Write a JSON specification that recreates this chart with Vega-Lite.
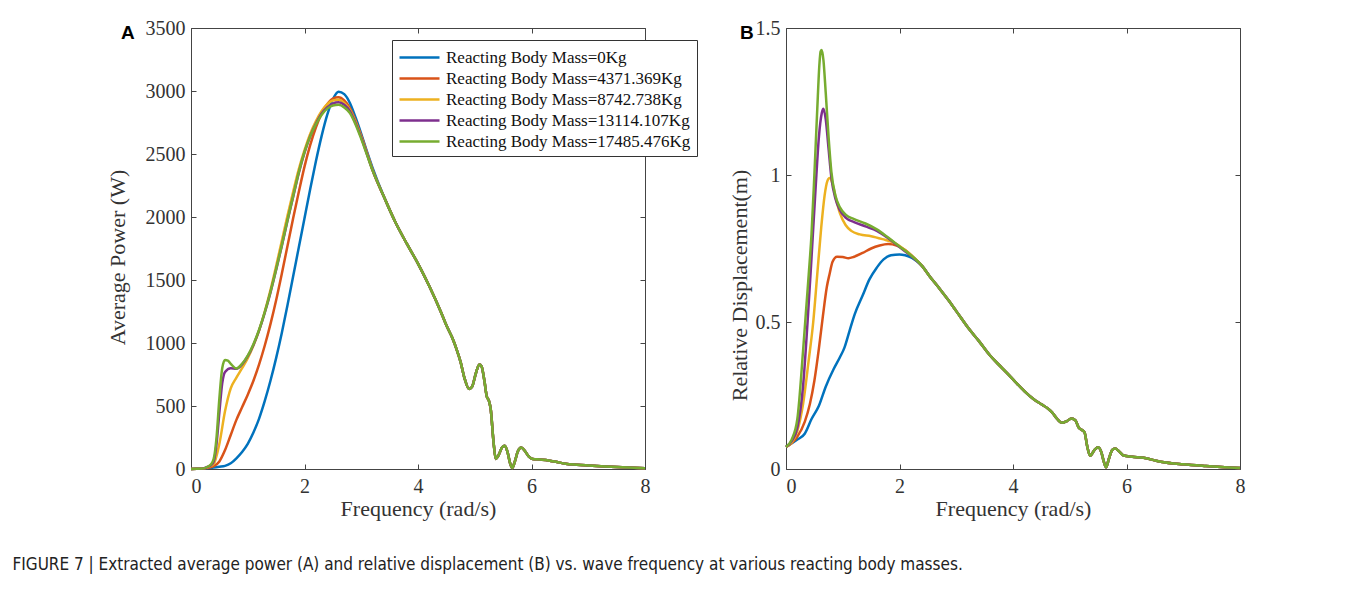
{
  "$schema": "https://vega.github.io/schema/vega-lite/v6.json",
  "background": "white",
  "padding": {"left": 12, "top": 17, "right": 5, "bottom": 5},
  "config": {
    "view": {"stroke": "#444", "strokeWidth": 1},
    "axis": {"grid": false, "domain": false, "ticks": true, "tickColor": "#444", "tickSize": -5, "labelFont": "Liberation Serif", "labelFontSize": 20, "labelColor": "#333", "titleFont": "Liberation Serif", "titleFontSize": 22, "titleFontWeight": "normal", "titleColor": "#333"},
    "axisX": {"labelPadding": 12},
    "axisY": {"labelPadding": 11},
    "line": {"strokeWidth": 2.5, "interpolate": "monotone"}
  },
  "title": {"text": "FIGURE 7 | Extracted average power (A) and relative displacement (B) vs. wave frequency at various reacting body masses.", "orient": "bottom", "anchor": "start", "frame": "bounds", "font": "Liberation Sans Narrow, DejaVu Sans Condensed, Liberation Sans", "fontSize": 17, "fontWeight": "normal", "color": "#222", "offset": 37, "dx": -93},
  "resolve": {"scale": {"color": "independent"}, "legend": {"color": "independent"}},
  "spacing": 29,
  "datasets": {
    "power": [
      {"m":"0","f":0,"v":0},{"m":"0","f":0.1,"v":1},{"m":"0","f":0.2,"v":3},{"m":"0","f":0.3,"v":8},{"m":"0","f":0.4,"v":12},{"m":"0","f":0.5,"v":18},{"m":"0","f":0.6,"v":25},{"m":"0","f":0.7,"v":45},{"m":"0","f":0.8,"v":85},{"m":"0","f":0.9,"v":135},{"m":"0","f":1.0,"v":200},{"m":"0","f":1.1,"v":290},{"m":"0","f":1.2,"v":400},{"m":"0","f":1.3,"v":540},{"m":"0","f":1.4,"v":700},{"m":"0","f":1.5,"v":880},{"m":"0","f":1.6,"v":1080},{"m":"0","f":1.7,"v":1300},{"m":"0","f":1.8,"v":1530},{"m":"0","f":1.9,"v":1760},{"m":"0","f":2.0,"v":1990},{"m":"0","f":2.1,"v":2220},{"m":"0","f":2.2,"v":2440},{"m":"0","f":2.3,"v":2640},{"m":"0","f":2.4,"v":2810},{"m":"0","f":2.5,"v":2935},{"m":"0","f":2.6,"v":2995},{"m":"0","f":2.7,"v":2975},{"m":"0","f":2.8,"v":2905},{"m":"0","f":2.9,"v":2790},{"m":"0","f":3.0,"v":2660},{"m":"0","f":3.1,"v":2520},{"m":"0","f":3.2,"v":2390},
      {"m":"0","f":3.4,"v":2160},{"m":"0","f":3.6,"v":1960},{"m":"0","f":3.8,"v":1790},{"m":"0","f":4.0,"v":1630},{"m":"0","f":4.2,"v":1450},{"m":"0","f":4.4,"v":1250},{"m":"0","f":4.5,"v":1140},{"m":"0","f":4.6,"v":1045},{"m":"0","f":4.68,"v":950},{"m":"0","f":4.75,"v":850},{"m":"0","f":4.82,"v":720},{"m":"0","f":4.9,"v":635},{"m":"0","f":4.95,"v":650},{"m":"0","f":5.02,"v":760},{"m":"0","f":5.08,"v":830},{"m":"0","f":5.12,"v":815},{"m":"0","f":5.17,"v":700},{"m":"0","f":5.21,"v":580},{"m":"0","f":5.25,"v":540},{"m":"0","f":5.28,"v":480},{"m":"0","f":5.33,"v":220},{"m":"0","f":5.37,"v":80},{"m":"0","f":5.42,"v":110},{"m":"0","f":5.48,"v":170},{"m":"0","f":5.53,"v":185},{"m":"0","f":5.58,"v":130},{"m":"0","f":5.62,"v":50},{"m":"0","f":5.66,"v":8},{"m":"0","f":5.7,"v":50},{"m":"0","f":5.76,"v":140},{"m":"0","f":5.82,"v":170},{"m":"0","f":5.88,"v":145},{"m":"0","f":5.95,"v":100},{"m":"0","f":6.02,"v":80},{"m":"0","f":6.15,"v":75},{"m":"0","f":6.3,"v":68},{"m":"0","f":6.45,"v":55},{"m":"0","f":6.6,"v":42},{"m":"0","f":6.8,"v":34},{"m":"0","f":7.0,"v":28},{"m":"0","f":7.3,"v":20},{"m":"0","f":7.6,"v":14},{"m":"0","f":8.0,"v":6},

      {"m":"4371.369","f":0,"v":0},{"m":"4371.369","f":0.1,"v":1},{"m":"4371.369","f":0.2,"v":3},{"m":"4371.369","f":0.3,"v":10},{"m":"4371.369","f":0.4,"v":22},{"m":"4371.369","f":0.5,"v":60},{"m":"4371.369","f":0.6,"v":150},{"m":"4371.369","f":0.7,"v":270},{"m":"4371.369","f":0.8,"v":390},{"m":"4371.369","f":0.9,"v":490},{"m":"4371.369","f":1.0,"v":590},{"m":"4371.369","f":1.1,"v":700},{"m":"4371.369","f":1.2,"v":830},{"m":"4371.369","f":1.3,"v":980},{"m":"4371.369","f":1.4,"v":1150},{"m":"4371.369","f":1.5,"v":1340},{"m":"4371.369","f":1.6,"v":1550},{"m":"4371.369","f":1.7,"v":1770},{"m":"4371.369","f":1.8,"v":1990},{"m":"4371.369","f":1.9,"v":2200},{"m":"4371.369","f":2.0,"v":2400},{"m":"4371.369","f":2.1,"v":2570},{"m":"4371.369","f":2.2,"v":2710},{"m":"4371.369","f":2.3,"v":2820},{"m":"4371.369","f":2.4,"v":2895},{"m":"4371.369","f":2.5,"v":2940},{"m":"4371.369","f":2.6,"v":2950},{"m":"4371.369","f":2.7,"v":2925},{"m":"4371.369","f":2.8,"v":2865},{"m":"4371.369","f":2.9,"v":2765},{"m":"4371.369","f":3.0,"v":2645},{"m":"4371.369","f":3.1,"v":2510},{"m":"4371.369","f":3.2,"v":2375},
      {"m":"4371.369","f":3.4,"v":2160},{"m":"4371.369","f":3.6,"v":1960},{"m":"4371.369","f":3.8,"v":1790},{"m":"4371.369","f":4.0,"v":1630},{"m":"4371.369","f":4.2,"v":1450},{"m":"4371.369","f":4.4,"v":1250},{"m":"4371.369","f":4.5,"v":1140},{"m":"4371.369","f":4.6,"v":1045},{"m":"4371.369","f":4.68,"v":950},{"m":"4371.369","f":4.75,"v":850},{"m":"4371.369","f":4.82,"v":720},{"m":"4371.369","f":4.9,"v":635},{"m":"4371.369","f":4.95,"v":650},{"m":"4371.369","f":5.02,"v":760},{"m":"4371.369","f":5.08,"v":830},{"m":"4371.369","f":5.12,"v":815},{"m":"4371.369","f":5.17,"v":700},{"m":"4371.369","f":5.21,"v":580},{"m":"4371.369","f":5.25,"v":540},{"m":"4371.369","f":5.28,"v":480},{"m":"4371.369","f":5.33,"v":220},{"m":"4371.369","f":5.37,"v":80},{"m":"4371.369","f":5.42,"v":110},{"m":"4371.369","f":5.48,"v":170},{"m":"4371.369","f":5.53,"v":185},{"m":"4371.369","f":5.58,"v":130},{"m":"4371.369","f":5.62,"v":50},{"m":"4371.369","f":5.66,"v":8},{"m":"4371.369","f":5.7,"v":50},{"m":"4371.369","f":5.76,"v":140},{"m":"4371.369","f":5.82,"v":170},{"m":"4371.369","f":5.88,"v":145},{"m":"4371.369","f":5.95,"v":100},{"m":"4371.369","f":6.02,"v":80},{"m":"4371.369","f":6.15,"v":75},{"m":"4371.369","f":6.3,"v":68},{"m":"4371.369","f":6.45,"v":55},{"m":"4371.369","f":6.6,"v":42},{"m":"4371.369","f":6.8,"v":34},{"m":"4371.369","f":7.0,"v":28},{"m":"4371.369","f":7.3,"v":20},{"m":"4371.369","f":7.6,"v":14},{"m":"4371.369","f":8.0,"v":6},

      {"m":"8742.738","f":0,"v":0},{"m":"8742.738","f":0.1,"v":1},{"m":"8742.738","f":0.2,"v":3},{"m":"8742.738","f":0.3,"v":15},{"m":"8742.738","f":0.4,"v":40},{"m":"8742.738","f":0.5,"v":200},{"m":"8742.738","f":0.6,"v":460},{"m":"8742.738","f":0.7,"v":640},{"m":"8742.738","f":0.8,"v":725},{"m":"8742.738","f":0.9,"v":800},{"m":"8742.738","f":1.0,"v":880},{"m":"8742.738","f":1.1,"v":980},{"m":"8742.738","f":1.2,"v":1100},{"m":"8742.738","f":1.3,"v":1250},{"m":"8742.738","f":1.4,"v":1420},{"m":"8742.738","f":1.5,"v":1610},{"m":"8742.738","f":1.6,"v":1810},{"m":"8742.738","f":1.7,"v":2010},{"m":"8742.738","f":1.8,"v":2200},{"m":"8742.738","f":1.9,"v":2380},{"m":"8742.738","f":2.0,"v":2530},{"m":"8742.738","f":2.1,"v":2660},{"m":"8742.738","f":2.2,"v":2760},{"m":"8742.738","f":2.3,"v":2840},{"m":"8742.738","f":2.4,"v":2895},{"m":"8742.738","f":2.5,"v":2925},{"m":"8742.738","f":2.6,"v":2930},{"m":"8742.738","f":2.7,"v":2905},{"m":"8742.738","f":2.8,"v":2850},{"m":"8742.738","f":2.9,"v":2755},{"m":"8742.738","f":3.0,"v":2635},{"m":"8742.738","f":3.1,"v":2505},{"m":"8742.738","f":3.2,"v":2370},
      {"m":"8742.738","f":3.4,"v":2160},{"m":"8742.738","f":3.6,"v":1960},{"m":"8742.738","f":3.8,"v":1790},{"m":"8742.738","f":4.0,"v":1630},{"m":"8742.738","f":4.2,"v":1450},{"m":"8742.738","f":4.4,"v":1250},{"m":"8742.738","f":4.5,"v":1140},{"m":"8742.738","f":4.6,"v":1045},{"m":"8742.738","f":4.68,"v":950},{"m":"8742.738","f":4.75,"v":850},{"m":"8742.738","f":4.82,"v":720},{"m":"8742.738","f":4.9,"v":635},{"m":"8742.738","f":4.95,"v":650},{"m":"8742.738","f":5.02,"v":760},{"m":"8742.738","f":5.08,"v":830},{"m":"8742.738","f":5.12,"v":815},{"m":"8742.738","f":5.17,"v":700},{"m":"8742.738","f":5.21,"v":580},{"m":"8742.738","f":5.25,"v":540},{"m":"8742.738","f":5.28,"v":480},{"m":"8742.738","f":5.33,"v":220},{"m":"8742.738","f":5.37,"v":80},{"m":"8742.738","f":5.42,"v":110},{"m":"8742.738","f":5.48,"v":170},{"m":"8742.738","f":5.53,"v":185},{"m":"8742.738","f":5.58,"v":130},{"m":"8742.738","f":5.62,"v":50},{"m":"8742.738","f":5.66,"v":8},{"m":"8742.738","f":5.7,"v":50},{"m":"8742.738","f":5.76,"v":140},{"m":"8742.738","f":5.82,"v":170},{"m":"8742.738","f":5.88,"v":145},{"m":"8742.738","f":5.95,"v":100},{"m":"8742.738","f":6.02,"v":80},{"m":"8742.738","f":6.15,"v":75},{"m":"8742.738","f":6.3,"v":68},{"m":"8742.738","f":6.45,"v":55},{"m":"8742.738","f":6.6,"v":42},{"m":"8742.738","f":6.8,"v":34},{"m":"8742.738","f":7.0,"v":28},{"m":"8742.738","f":7.3,"v":20},{"m":"8742.738","f":7.6,"v":14},{"m":"8742.738","f":8.0,"v":6},

      {"m":"13114.107","f":0,"v":0},{"m":"13114.107","f":0.1,"v":1},{"m":"13114.107","f":0.2,"v":3},{"m":"13114.107","f":0.3,"v":18},{"m":"13114.107","f":0.35,"v":30},{"m":"13114.107","f":0.4,"v":60},{"m":"13114.107","f":0.45,"v":200},{"m":"13114.107","f":0.5,"v":450},{"m":"13114.107","f":0.55,"v":680},{"m":"13114.107","f":0.6,"v":770},{"m":"13114.107","f":0.7,"v":800},{"m":"13114.107","f":0.8,"v":795},{"m":"13114.107","f":0.9,"v":830},{"m":"13114.107","f":1.0,"v":895},{"m":"13114.107","f":1.1,"v":985},{"m":"13114.107","f":1.2,"v":1100},{"m":"13114.107","f":1.3,"v":1240},{"m":"13114.107","f":1.4,"v":1400},{"m":"13114.107","f":1.5,"v":1580},{"m":"13114.107","f":1.6,"v":1770},{"m":"13114.107","f":1.7,"v":1970},{"m":"13114.107","f":1.8,"v":2160},{"m":"13114.107","f":1.9,"v":2350},{"m":"13114.107","f":2.0,"v":2510},{"m":"13114.107","f":2.1,"v":2640},{"m":"13114.107","f":2.2,"v":2740},{"m":"13114.107","f":2.3,"v":2820},{"m":"13114.107","f":2.4,"v":2870},{"m":"13114.107","f":2.5,"v":2900},{"m":"13114.107","f":2.6,"v":2910},{"m":"13114.107","f":2.7,"v":2890},{"m":"13114.107","f":2.8,"v":2840},{"m":"13114.107","f":2.9,"v":2745},{"m":"13114.107","f":3.0,"v":2630},{"m":"13114.107","f":3.1,"v":2500},{"m":"13114.107","f":3.2,"v":2370},
      {"m":"13114.107","f":3.4,"v":2160},{"m":"13114.107","f":3.6,"v":1960},{"m":"13114.107","f":3.8,"v":1790},{"m":"13114.107","f":4.0,"v":1630},{"m":"13114.107","f":4.2,"v":1450},{"m":"13114.107","f":4.4,"v":1250},{"m":"13114.107","f":4.5,"v":1140},{"m":"13114.107","f":4.6,"v":1045},{"m":"13114.107","f":4.68,"v":950},{"m":"13114.107","f":4.75,"v":850},{"m":"13114.107","f":4.82,"v":720},{"m":"13114.107","f":4.9,"v":635},{"m":"13114.107","f":4.95,"v":650},{"m":"13114.107","f":5.02,"v":760},{"m":"13114.107","f":5.08,"v":830},{"m":"13114.107","f":5.12,"v":815},{"m":"13114.107","f":5.17,"v":700},{"m":"13114.107","f":5.21,"v":580},{"m":"13114.107","f":5.25,"v":540},{"m":"13114.107","f":5.28,"v":480},{"m":"13114.107","f":5.33,"v":220},{"m":"13114.107","f":5.37,"v":80},{"m":"13114.107","f":5.42,"v":110},{"m":"13114.107","f":5.48,"v":170},{"m":"13114.107","f":5.53,"v":185},{"m":"13114.107","f":5.58,"v":130},{"m":"13114.107","f":5.62,"v":50},{"m":"13114.107","f":5.66,"v":8},{"m":"13114.107","f":5.7,"v":50},{"m":"13114.107","f":5.76,"v":140},{"m":"13114.107","f":5.82,"v":170},{"m":"13114.107","f":5.88,"v":145},{"m":"13114.107","f":5.95,"v":100},{"m":"13114.107","f":6.02,"v":80},{"m":"13114.107","f":6.15,"v":75},{"m":"13114.107","f":6.3,"v":68},{"m":"13114.107","f":6.45,"v":55},{"m":"13114.107","f":6.6,"v":42},{"m":"13114.107","f":6.8,"v":34},{"m":"13114.107","f":7.0,"v":28},{"m":"13114.107","f":7.3,"v":20},{"m":"13114.107","f":7.6,"v":14},{"m":"13114.107","f":8.0,"v":6},

      {"m":"17485.476","f":0,"v":0},{"m":"17485.476","f":0.1,"v":1},{"m":"17485.476","f":0.2,"v":3},{"m":"17485.476","f":0.3,"v":20},{"m":"17485.476","f":0.35,"v":35},{"m":"17485.476","f":0.4,"v":80},{"m":"17485.476","f":0.45,"v":250},{"m":"17485.476","f":0.5,"v":560},{"m":"17485.476","f":0.55,"v":800},{"m":"17485.476","f":0.6,"v":865},{"m":"17485.476","f":0.65,"v":860},{"m":"17485.476","f":0.7,"v":835},{"m":"17485.476","f":0.8,"v":798},{"m":"17485.476","f":0.9,"v":835},{"m":"17485.476","f":1.0,"v":900},{"m":"17485.476","f":1.1,"v":990},{"m":"17485.476","f":1.2,"v":1105},{"m":"17485.476","f":1.3,"v":1245},{"m":"17485.476","f":1.4,"v":1405},{"m":"17485.476","f":1.5,"v":1585},{"m":"17485.476","f":1.6,"v":1775},{"m":"17485.476","f":1.7,"v":1975},{"m":"17485.476","f":1.8,"v":2165},{"m":"17485.476","f":1.9,"v":2355},{"m":"17485.476","f":2.0,"v":2515},{"m":"17485.476","f":2.1,"v":2640},{"m":"17485.476","f":2.2,"v":2735},{"m":"17485.476","f":2.3,"v":2810},{"m":"17485.476","f":2.4,"v":2860},{"m":"17485.476","f":2.5,"v":2885},{"m":"17485.476","f":2.6,"v":2890},{"m":"17485.476","f":2.7,"v":2870},{"m":"17485.476","f":2.8,"v":2825},{"m":"17485.476","f":2.9,"v":2735},{"m":"17485.476","f":3.0,"v":2620},{"m":"17485.476","f":3.1,"v":2495},{"m":"17485.476","f":3.2,"v":2370},
      {"m":"17485.476","f":3.4,"v":2160},{"m":"17485.476","f":3.6,"v":1960},{"m":"17485.476","f":3.8,"v":1790},{"m":"17485.476","f":4.0,"v":1630},{"m":"17485.476","f":4.2,"v":1450},{"m":"17485.476","f":4.4,"v":1250},{"m":"17485.476","f":4.5,"v":1140},{"m":"17485.476","f":4.6,"v":1045},{"m":"17485.476","f":4.68,"v":950},{"m":"17485.476","f":4.75,"v":850},{"m":"17485.476","f":4.82,"v":720},{"m":"17485.476","f":4.9,"v":635},{"m":"17485.476","f":4.95,"v":650},{"m":"17485.476","f":5.02,"v":760},{"m":"17485.476","f":5.08,"v":830},{"m":"17485.476","f":5.12,"v":815},{"m":"17485.476","f":5.17,"v":700},{"m":"17485.476","f":5.21,"v":580},{"m":"17485.476","f":5.25,"v":540},{"m":"17485.476","f":5.28,"v":480},{"m":"17485.476","f":5.33,"v":220},{"m":"17485.476","f":5.37,"v":80},{"m":"17485.476","f":5.42,"v":110},{"m":"17485.476","f":5.48,"v":170},{"m":"17485.476","f":5.53,"v":185},{"m":"17485.476","f":5.58,"v":130},{"m":"17485.476","f":5.62,"v":50},{"m":"17485.476","f":5.66,"v":8},{"m":"17485.476","f":5.7,"v":50},{"m":"17485.476","f":5.76,"v":140},{"m":"17485.476","f":5.82,"v":170},{"m":"17485.476","f":5.88,"v":145},{"m":"17485.476","f":5.95,"v":100},{"m":"17485.476","f":6.02,"v":80},{"m":"17485.476","f":6.15,"v":75},{"m":"17485.476","f":6.3,"v":68},{"m":"17485.476","f":6.45,"v":55},{"m":"17485.476","f":6.6,"v":42},{"m":"17485.476","f":6.8,"v":34},{"m":"17485.476","f":7.0,"v":28},{"m":"17485.476","f":7.3,"v":20},{"m":"17485.476","f":7.6,"v":14},{"m":"17485.476","f":8.0,"v":6}
    ],
    "disp": [
      {"m":"0","f":0,"v":0.075},{"m":"0","f":0.2,"v":0.1},{"m":"0","f":0.33,"v":0.12},{"m":"0","f":0.45,"v":0.17},{"m":"0","f":0.58,"v":0.215},{"m":"0","f":0.7,"v":0.28},{"m":"0","f":0.84,"v":0.34},{"m":"0","f":0.95,"v":0.38},{"m":"0","f":1.03,"v":0.413},{"m":"0","f":1.12,"v":0.47},{"m":"0","f":1.21,"v":0.526},{"m":"0","f":1.35,"v":0.59},{"m":"0","f":1.47,"v":0.645},{"m":"0","f":1.6,"v":0.685},{"m":"0","f":1.72,"v":0.713},{"m":"0","f":1.85,"v":0.727},{"m":"0","f":2.0,"v":0.73},{"m":"0","f":2.1,"v":0.727},{"m":"0","f":2.22,"v":0.718},{"m":"0","f":2.3,"v":0.707},
      {"m":"0","f":2.4,"v":0.69},{"m":"0","f":2.53,"v":0.656},{"m":"0","f":2.7,"v":0.615},{"m":"0","f":2.85,"v":0.577},{"m":"0","f":3.0,"v":0.537},{"m":"0","f":3.23,"v":0.475},{"m":"0","f":3.4,"v":0.435},{"m":"0","f":3.6,"v":0.385},{"m":"0","f":3.8,"v":0.345},{"m":"0","f":4.0,"v":0.305},{"m":"0","f":4.2,"v":0.265},{"m":"0","f":4.36,"v":0.238},{"m":"0","f":4.5,"v":0.22},{"m":"0","f":4.62,"v":0.205},{"m":"0","f":4.7,"v":0.19},{"m":"0","f":4.78,"v":0.17},{"m":"0","f":4.86,"v":0.157},{"m":"0","f":4.95,"v":0.163},{"m":"0","f":5.03,"v":0.172},{"m":"0","f":5.1,"v":0.165},{"m":"0","f":5.16,"v":0.14},{"m":"0","f":5.22,"v":0.132},{"m":"0","f":5.26,"v":0.125},{"m":"0","f":5.31,"v":0.075},{"m":"0","f":5.36,"v":0.045},{"m":"0","f":5.44,"v":0.066},{"m":"0","f":5.5,"v":0.074},{"m":"0","f":5.56,"v":0.055},{"m":"0","f":5.6,"v":0.025},{"m":"0","f":5.64,"v":0.006},{"m":"0","f":5.69,"v":0.035},{"m":"0","f":5.75,"v":0.065},{"m":"0","f":5.8,"v":0.07},{"m":"0","f":5.87,"v":0.06},{"m":"0","f":5.95,"v":0.046},{"m":"0","f":6.1,"v":0.042},{"m":"0","f":6.3,"v":0.038},{"m":"0","f":6.6,"v":0.025},{"m":"0","f":7.0,"v":0.016},{"m":"0","f":7.4,"v":0.01},{"m":"0","f":7.8,"v":0.005},{"m":"0","f":8.0,"v":0.003},

      {"m":"4371.369","f":0,"v":0.075},{"m":"4371.369","f":0.1,"v":0.088},{"m":"4371.369","f":0.2,"v":0.11},{"m":"4371.369","f":0.33,"v":0.16},{"m":"4371.369","f":0.42,"v":0.22},{"m":"4371.369","f":0.5,"v":0.3},{"m":"4371.369","f":0.58,"v":0.41},{"m":"4371.369","f":0.65,"v":0.52},{"m":"4371.369","f":0.72,"v":0.62},{"m":"4371.369","f":0.77,"v":0.665},{"m":"4371.369","f":0.82,"v":0.705},{"m":"4371.369","f":0.9,"v":0.722},{"m":"4371.369","f":1.0,"v":0.721},{"m":"4371.369","f":1.1,"v":0.717},{"m":"4371.369","f":1.2,"v":0.722},{"m":"4371.369","f":1.35,"v":0.735},{"m":"4371.369","f":1.5,"v":0.75},{"m":"4371.369","f":1.65,"v":0.76},{"m":"4371.369","f":1.8,"v":0.765},{"m":"4371.369","f":1.95,"v":0.76},{"m":"4371.369","f":2.1,"v":0.745},{"m":"4371.369","f":2.25,"v":0.72},
      {"m":"4371.369","f":2.4,"v":0.69},{"m":"4371.369","f":2.53,"v":0.656},{"m":"4371.369","f":2.7,"v":0.615},{"m":"4371.369","f":2.85,"v":0.577},{"m":"4371.369","f":3.0,"v":0.537},{"m":"4371.369","f":3.23,"v":0.475},{"m":"4371.369","f":3.4,"v":0.435},{"m":"4371.369","f":3.6,"v":0.385},{"m":"4371.369","f":3.8,"v":0.345},{"m":"4371.369","f":4.0,"v":0.305},{"m":"4371.369","f":4.2,"v":0.265},{"m":"4371.369","f":4.36,"v":0.238},{"m":"4371.369","f":4.5,"v":0.22},{"m":"4371.369","f":4.62,"v":0.205},{"m":"4371.369","f":4.7,"v":0.19},{"m":"4371.369","f":4.78,"v":0.17},{"m":"4371.369","f":4.86,"v":0.157},{"m":"4371.369","f":4.95,"v":0.163},{"m":"4371.369","f":5.03,"v":0.172},{"m":"4371.369","f":5.1,"v":0.165},{"m":"4371.369","f":5.16,"v":0.14},{"m":"4371.369","f":5.22,"v":0.132},{"m":"4371.369","f":5.26,"v":0.125},{"m":"4371.369","f":5.31,"v":0.075},{"m":"4371.369","f":5.36,"v":0.045},{"m":"4371.369","f":5.44,"v":0.066},{"m":"4371.369","f":5.5,"v":0.074},{"m":"4371.369","f":5.56,"v":0.055},{"m":"4371.369","f":5.6,"v":0.025},{"m":"4371.369","f":5.64,"v":0.006},{"m":"4371.369","f":5.69,"v":0.035},{"m":"4371.369","f":5.75,"v":0.065},{"m":"4371.369","f":5.8,"v":0.07},{"m":"4371.369","f":5.87,"v":0.06},{"m":"4371.369","f":5.95,"v":0.046},{"m":"4371.369","f":6.1,"v":0.042},{"m":"4371.369","f":6.3,"v":0.038},{"m":"4371.369","f":6.6,"v":0.025},{"m":"4371.369","f":7.0,"v":0.016},{"m":"4371.369","f":7.4,"v":0.01},{"m":"4371.369","f":7.8,"v":0.005},{"m":"4371.369","f":8.0,"v":0.003},

      {"m":"8742.738","f":0,"v":0.075},{"m":"8742.738","f":0.1,"v":0.09},{"m":"8742.738","f":0.2,"v":0.13},{"m":"8742.738","f":0.3,"v":0.22},{"m":"8742.738","f":0.4,"v":0.37},{"m":"8742.738","f":0.48,"v":0.5},{"m":"8742.738","f":0.55,"v":0.66},{"m":"8742.738","f":0.62,"v":0.82},{"m":"8742.738","f":0.68,"v":0.93},{"m":"8742.738","f":0.73,"v":0.98},{"m":"8742.738","f":0.77,"v":0.99},{"m":"8742.738","f":0.82,"v":0.97},{"m":"8742.738","f":0.88,"v":0.92},{"m":"8742.738","f":0.95,"v":0.87},{"m":"8742.738","f":1.05,"v":0.83},{"m":"8742.738","f":1.15,"v":0.81},{"m":"8742.738","f":1.3,"v":0.798},{"m":"8742.738","f":1.5,"v":0.792},{"m":"8742.738","f":1.7,"v":0.782},{"m":"8742.738","f":1.9,"v":0.77},{"m":"8742.738","f":2.05,"v":0.752},{"m":"8742.738","f":2.2,"v":0.728},
      {"m":"8742.738","f":2.4,"v":0.69},{"m":"8742.738","f":2.53,"v":0.656},{"m":"8742.738","f":2.7,"v":0.615},{"m":"8742.738","f":2.85,"v":0.577},{"m":"8742.738","f":3.0,"v":0.537},{"m":"8742.738","f":3.23,"v":0.475},{"m":"8742.738","f":3.4,"v":0.435},{"m":"8742.738","f":3.6,"v":0.385},{"m":"8742.738","f":3.8,"v":0.345},{"m":"8742.738","f":4.0,"v":0.305},{"m":"8742.738","f":4.2,"v":0.265},{"m":"8742.738","f":4.36,"v":0.238},{"m":"8742.738","f":4.5,"v":0.22},{"m":"8742.738","f":4.62,"v":0.205},{"m":"8742.738","f":4.7,"v":0.19},{"m":"8742.738","f":4.78,"v":0.17},{"m":"8742.738","f":4.86,"v":0.157},{"m":"8742.738","f":4.95,"v":0.163},{"m":"8742.738","f":5.03,"v":0.172},{"m":"8742.738","f":5.1,"v":0.165},{"m":"8742.738","f":5.16,"v":0.14},{"m":"8742.738","f":5.22,"v":0.132},{"m":"8742.738","f":5.26,"v":0.125},{"m":"8742.738","f":5.31,"v":0.075},{"m":"8742.738","f":5.36,"v":0.045},{"m":"8742.738","f":5.44,"v":0.066},{"m":"8742.738","f":5.5,"v":0.074},{"m":"8742.738","f":5.56,"v":0.055},{"m":"8742.738","f":5.6,"v":0.025},{"m":"8742.738","f":5.64,"v":0.006},{"m":"8742.738","f":5.69,"v":0.035},{"m":"8742.738","f":5.75,"v":0.065},{"m":"8742.738","f":5.8,"v":0.07},{"m":"8742.738","f":5.87,"v":0.06},{"m":"8742.738","f":5.95,"v":0.046},{"m":"8742.738","f":6.1,"v":0.042},{"m":"8742.738","f":6.3,"v":0.038},{"m":"8742.738","f":6.6,"v":0.025},{"m":"8742.738","f":7.0,"v":0.016},{"m":"8742.738","f":7.4,"v":0.01},{"m":"8742.738","f":7.8,"v":0.005},{"m":"8742.738","f":8.0,"v":0.003},

      {"m":"13114.107","f":0,"v":0.075},{"m":"13114.107","f":0.1,"v":0.095},{"m":"13114.107","f":0.2,"v":0.14},{"m":"13114.107","f":0.3,"v":0.28},{"m":"13114.107","f":0.38,"v":0.5},{"m":"13114.107","f":0.45,"v":0.72},{"m":"13114.107","f":0.52,"v":0.95},{"m":"13114.107","f":0.58,"v":1.13},{"m":"13114.107","f":0.63,"v":1.21},{"m":"13114.107","f":0.66,"v":1.225},{"m":"13114.107","f":0.7,"v":1.19},{"m":"13114.107","f":0.75,"v":1.09},{"m":"13114.107","f":0.8,"v":0.99},{"m":"13114.107","f":0.87,"v":0.92},{"m":"13114.107","f":0.95,"v":0.88},{"m":"13114.107","f":1.05,"v":0.855},{"m":"13114.107","f":1.2,"v":0.84},{"m":"13114.107","f":1.4,"v":0.825},{"m":"13114.107","f":1.6,"v":0.81},{"m":"13114.107","f":1.8,"v":0.785},{"m":"13114.107","f":2.0,"v":0.755},{"m":"13114.107","f":2.2,"v":0.725},
      {"m":"13114.107","f":2.4,"v":0.69},{"m":"13114.107","f":2.53,"v":0.656},{"m":"13114.107","f":2.7,"v":0.615},{"m":"13114.107","f":2.85,"v":0.577},{"m":"13114.107","f":3.0,"v":0.537},{"m":"13114.107","f":3.23,"v":0.475},{"m":"13114.107","f":3.4,"v":0.435},{"m":"13114.107","f":3.6,"v":0.385},{"m":"13114.107","f":3.8,"v":0.345},{"m":"13114.107","f":4.0,"v":0.305},{"m":"13114.107","f":4.2,"v":0.265},{"m":"13114.107","f":4.36,"v":0.238},{"m":"13114.107","f":4.5,"v":0.22},{"m":"13114.107","f":4.62,"v":0.205},{"m":"13114.107","f":4.7,"v":0.19},{"m":"13114.107","f":4.78,"v":0.17},{"m":"13114.107","f":4.86,"v":0.157},{"m":"13114.107","f":4.95,"v":0.163},{"m":"13114.107","f":5.03,"v":0.172},{"m":"13114.107","f":5.1,"v":0.165},{"m":"13114.107","f":5.16,"v":0.14},{"m":"13114.107","f":5.22,"v":0.132},{"m":"13114.107","f":5.26,"v":0.125},{"m":"13114.107","f":5.31,"v":0.075},{"m":"13114.107","f":5.36,"v":0.045},{"m":"13114.107","f":5.44,"v":0.066},{"m":"13114.107","f":5.5,"v":0.074},{"m":"13114.107","f":5.56,"v":0.055},{"m":"13114.107","f":5.6,"v":0.025},{"m":"13114.107","f":5.64,"v":0.006},{"m":"13114.107","f":5.69,"v":0.035},{"m":"13114.107","f":5.75,"v":0.065},{"m":"13114.107","f":5.8,"v":0.07},{"m":"13114.107","f":5.87,"v":0.06},{"m":"13114.107","f":5.95,"v":0.046},{"m":"13114.107","f":6.1,"v":0.042},{"m":"13114.107","f":6.3,"v":0.038},{"m":"13114.107","f":6.6,"v":0.025},{"m":"13114.107","f":7.0,"v":0.016},{"m":"13114.107","f":7.4,"v":0.01},{"m":"13114.107","f":7.8,"v":0.005},{"m":"13114.107","f":8.0,"v":0.003},

      {"m":"17485.476","f":0,"v":0.075},{"m":"17485.476","f":0.1,"v":0.1},{"m":"17485.476","f":0.2,"v":0.17},{"m":"17485.476","f":0.3,"v":0.4},{"m":"17485.476","f":0.35,"v":0.53},{"m":"17485.476","f":0.4,"v":0.66},{"m":"17485.476","f":0.45,"v":0.8},{"m":"17485.476","f":0.5,"v":1.0},{"m":"17485.476","f":0.55,"v":1.22},{"m":"17485.476","f":0.59,"v":1.38},{"m":"17485.476","f":0.61,"v":1.42},{"m":"17485.476","f":0.63,"v":1.425},{"m":"17485.476","f":0.66,"v":1.39},{"m":"17485.476","f":0.7,"v":1.28},{"m":"17485.476","f":0.75,"v":1.13},{"m":"17485.476","f":0.8,"v":1.01},{"m":"17485.476","f":0.87,"v":0.93},{"m":"17485.476","f":0.95,"v":0.89},{"m":"17485.476","f":1.05,"v":0.865},{"m":"17485.476","f":1.2,"v":0.85},{"m":"17485.476","f":1.4,"v":0.835},{"m":"17485.476","f":1.6,"v":0.815},{"m":"17485.476","f":1.8,"v":0.787},{"m":"17485.476","f":2.0,"v":0.757},{"m":"17485.476","f":2.2,"v":0.727},
      {"m":"17485.476","f":2.4,"v":0.69},{"m":"17485.476","f":2.53,"v":0.656},{"m":"17485.476","f":2.7,"v":0.615},{"m":"17485.476","f":2.85,"v":0.577},{"m":"17485.476","f":3.0,"v":0.537},{"m":"17485.476","f":3.23,"v":0.475},{"m":"17485.476","f":3.4,"v":0.435},{"m":"17485.476","f":3.6,"v":0.385},{"m":"17485.476","f":3.8,"v":0.345},{"m":"17485.476","f":4.0,"v":0.305},{"m":"17485.476","f":4.2,"v":0.265},{"m":"17485.476","f":4.36,"v":0.238},{"m":"17485.476","f":4.5,"v":0.22},{"m":"17485.476","f":4.62,"v":0.205},{"m":"17485.476","f":4.7,"v":0.19},{"m":"17485.476","f":4.78,"v":0.17},{"m":"17485.476","f":4.86,"v":0.157},{"m":"17485.476","f":4.95,"v":0.163},{"m":"17485.476","f":5.03,"v":0.172},{"m":"17485.476","f":5.1,"v":0.165},{"m":"17485.476","f":5.16,"v":0.14},{"m":"17485.476","f":5.22,"v":0.132},{"m":"17485.476","f":5.26,"v":0.125},{"m":"17485.476","f":5.31,"v":0.075},{"m":"17485.476","f":5.36,"v":0.045},{"m":"17485.476","f":5.44,"v":0.066},{"m":"17485.476","f":5.5,"v":0.074},{"m":"17485.476","f":5.56,"v":0.055},{"m":"17485.476","f":5.6,"v":0.025},{"m":"17485.476","f":5.64,"v":0.006},{"m":"17485.476","f":5.69,"v":0.035},{"m":"17485.476","f":5.75,"v":0.065},{"m":"17485.476","f":5.8,"v":0.07},{"m":"17485.476","f":5.87,"v":0.06},{"m":"17485.476","f":5.95,"v":0.046},{"m":"17485.476","f":6.1,"v":0.042},{"m":"17485.476","f":6.3,"v":0.038},{"m":"17485.476","f":6.6,"v":0.025},{"m":"17485.476","f":7.0,"v":0.016},{"m":"17485.476","f":7.4,"v":0.01},{"m":"17485.476","f":7.8,"v":0.005},{"m":"17485.476","f":8.0,"v":0.003}
    ]
  },
  "hconcat": [
    {
      "width": 454, "height": 441,
      "title": {"text": "A", "anchor": "start", "frame": "group", "font": "Liberation Sans", "fontSize": 19, "fontWeight": "bold", "color": "#000", "dx": -70, "dy": 40, "baseline": "alphabetic", "offset": 0},
      "data": {"name": "power"},
      "layer": [
        {
          "mark": {"type": "line"},
          "encoding": {
            "x": {"field": "f", "type": "quantitative", "scale": {"domain": [0, 8], "nice": false, "zero": false}, "axis": {"values": [0, 2, 4, 6, 8], "title": "Frequency (rad/s)", "titlePadding": 2, "labelAlign": {"condition": {"test": "datum.value === 0", "value": "left"}, "value": "center"}}},
            "y": {"field": "v", "type": "quantitative", "scale": {"domain": [0, 3500], "nice": false}, "axis": {"values": [0, 500, 1000, 1500, 2000, 2500, 3000, 3500], "format": "d", "title": "Average Power (W)", "titlePadding": 16, "titleY": 229}},
            "color": {"field": "m", "type": "nominal", "sort": null,
              "scale": {"domain": ["0", "4371.369", "8742.738", "13114.107", "17485.476"], "range": ["#0072BD", "#D95319", "#EDB120", "#7E2F8E", "#77AC30"]},
              "legend": {"orient": "none", "legendX": 201, "legendY": 12, "title": null, "symbolType": "M-1,0H3", "symbolSize": 400, "symbolStrokeWidth": 2, "symbolFillColor": "transparent", "labelFont": "Liberation Serif", "labelFontSize": 17, "labelColor": "#111", "labelLimit": 400, "labelOffset": 25, "rowPadding": 1, "strokeColor": "#333", "fillColor": "white", "padding": 6, "labelExpr": "'Reacting Body Mass=' + datum.label + 'Kg'"}}
          }
        },
        {
          "mark": {"type": "point", "opacity": 0},
          "encoding": {
            "x": {"field": "f", "type": "quantitative", "axis": {"orient": "top", "values": [0, 2, 4, 6, 8], "labels": false, "title": null}},
            "y": {"field": "v", "type": "quantitative", "axis": {"orient": "right", "values": [0, 500, 1000, 1500, 2000, 2500, 3000, 3500], "labels": false, "title": null}}
          }
        }
      ],
      "resolve": {"axis": {"x": "independent", "y": "independent"}}
    },
    {
      "width": 454, "height": 441,
      "title": {"text": "B", "anchor": "start", "frame": "group", "font": "Liberation Sans", "fontSize": 19, "fontWeight": "bold", "color": "#000", "dx": -46, "dy": 40, "baseline": "alphabetic", "offset": 0},
      "data": {"name": "disp"},
      "layer": [
        {
          "mark": {"type": "line"},
          "encoding": {
            "x": {"field": "f", "type": "quantitative", "scale": {"domain": [0, 8], "nice": false, "zero": false}, "axis": {"values": [0, 2, 4, 6, 8], "title": "Frequency (rad/s)", "titlePadding": 2, "labelAlign": {"condition": {"test": "datum.value === 0", "value": "left"}, "value": "center"}}},
            "y": {"field": "v", "type": "quantitative", "scale": {"domain": [0, 1.5], "nice": false}, "axis": {"values": [0, 0.5, 1, 1.5], "format": "~g", "title": "Relative Displacement(m)", "titlePadding": 4, "titleY": 257}},
            "color": {"field": "m", "type": "nominal", "sort": null,
              "scale": {"domain": ["0", "4371.369", "8742.738", "13114.107", "17485.476"], "range": ["#0072BD", "#D95319", "#EDB120", "#7E2F8E", "#77AC30"]},
              "legend": null}
          }
        },
        {
          "mark": {"type": "point", "opacity": 0},
          "encoding": {
            "x": {"field": "f", "type": "quantitative", "axis": {"orient": "top", "values": [0, 2, 4, 6, 8], "labels": false, "title": null}},
            "y": {"field": "v", "type": "quantitative", "axis": {"orient": "right", "values": [0, 0.5, 1, 1.5], "labels": false, "title": null}}
          }
        }
      ],
      "resolve": {"axis": {"x": "independent", "y": "independent"}}
    }
  ]
}
